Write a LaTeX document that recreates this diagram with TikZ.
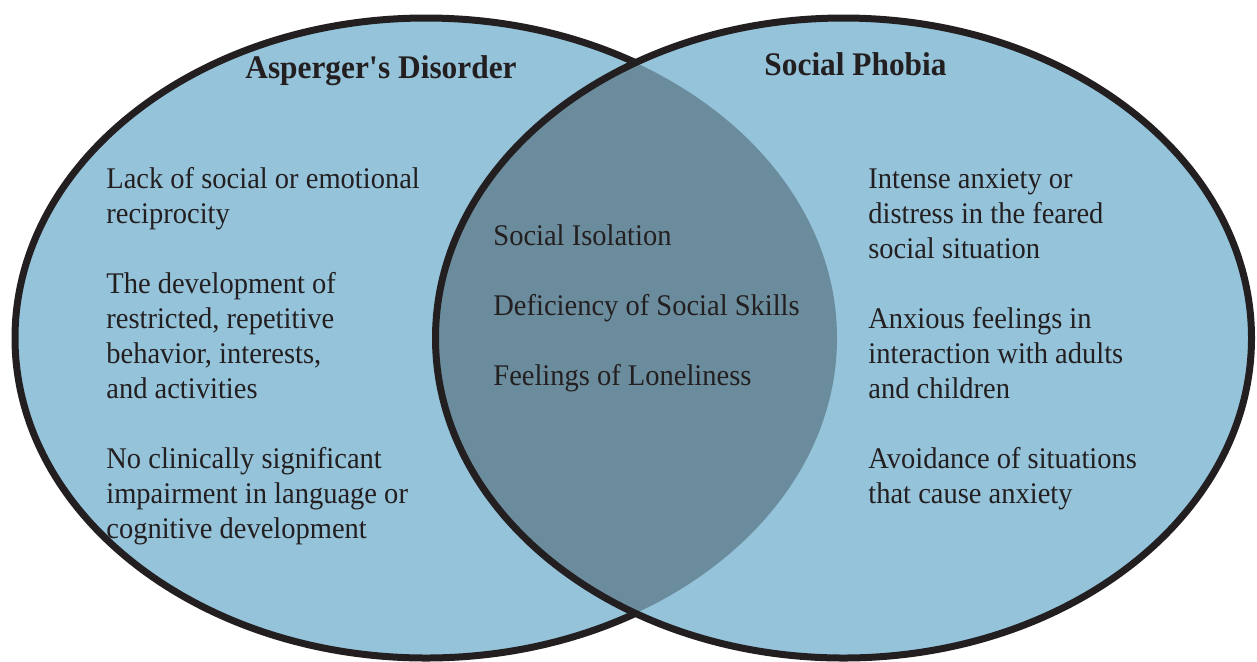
\documentclass[tikz,border=0pt]{standalone}
\usepackage{fontspec}
\setmainfont[FakeStretch=0.95]{Liberation Serif}
\definecolor{lightblue}{HTML}{95C3DA}
\definecolor{overlap}{HTML}{6B8C9C}
\definecolor{ink}{HTML}{231F20}
\begin{document}
\begin{tikzpicture}[x=0.5pt,y=-0.5pt,
  item/.style={anchor=base west, align=left, inner sep=0pt, text=ink,
    font=\fontsize{15}{17.5}\selectfont},
  heading/.style={anchor=base, inner sep=0pt, text=ink,
    font=\fontsize{16.5}{20}\selectfont\bfseries},
  outline/.style={draw=ink, line width=3.5pt}]
\useasboundingbox (0,0) rectangle (1257,661);
% left set
\path[fill=lightblue, outline] (426,338) ellipse [x radius=205.5pt, y radius=160pt];
% right set (fill covers left outline inside)
\path[fill=lightblue] (843.5,338) ellipse [x radius=204pt, y radius=160pt];
% overlap
\begin{scope}
  \clip (426,338) ellipse [x radius=205.5pt, y radius=160pt];
  \path[fill=overlap] (843.5,338) ellipse [x radius=204pt, y radius=160pt];
\end{scope}
\path[outline] (843.5,338) ellipse [x radius=204pt, y radius=160pt];

\node[heading] (t1) at (381,78) {Asperger\textquotesingle s Disorder};
\node[heading] (t2) at (855.5,75) {Social Phobia};

% multi-line nodes: base anchor sits below the last line
\node[item] (a1) at (106,223) {Lack of social or emotional\\reciprocity};
\node[item] (a2) at (106,398) {The development of\\restricted, repetitive\\behavior, interests,\\and activities};
\node[item] (a3) at (106,538) {No clinically significant\\impairment in language or\\cognitive development};

\node[item] (m1) at (493,245) {Social Isolation};
\node[item] (m2) at (493,315) {Deficiency of Social Skills};
\node[item] (m3) at (493,385) {Feelings of Loneliness};

\node[item] (b1) at (868,258) {Intense anxiety or\\distress in the feared\\social situation};
\node[item] (b2) at (868,398) {Anxious feelings in\\interaction with adults\\and children};
\node[item] (b3) at (868,503) {Avoidance of situations\\that cause anxiety};
\end{tikzpicture}
\end{document}
